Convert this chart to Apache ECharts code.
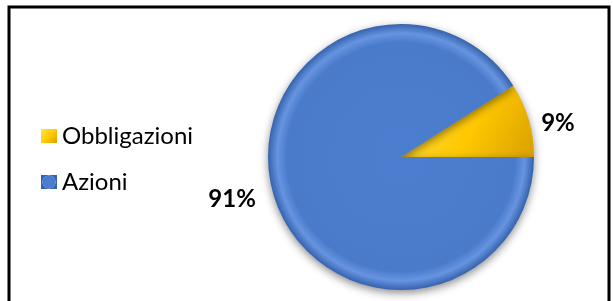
<!DOCTYPE html>
<html>
<head>
<meta charset="utf-8">
<script src="https://cdn.jsdelivr.net/npm/echarts@6/dist/echarts.min.js"></script>
<style>
  html, body { margin: 0; padding: 0; background: #fff; }
  #chart { width: 613px; height: 301px; }
</style>
</head>
<body>
<div id="chart"></div>
<script>
var categories = ['Obbligazioni', 'Azioni'];
var values = [9, 91];
var colors = ['#f5b800', '#4a7bcb'];

var myChart = echarts.init(document.getElementById('chart'));

var fills = [
    new echarts.graphic.LinearGradient(0, 0, 1, 1, [
        { offset: 0, color: '#ffe44a' },
        { offset: 0.55, color: '#ffc800' },
        { offset: 1, color: '#d9a000' }
    ]),
    new echarts.graphic.RadialGradient(0.5, 0.5, 0.5, [
        { offset: 0, color: '#4c7ecf' },
        { offset: 0.86, color: '#4a7bcb' },
        { offset: 0.93, color: '#6694e0' },
        { offset: 1, color: '#3562ad' }
    ])
];

var option = {
    animation: false,
    color: colors,
    legend: {
        orient: 'vertical',
        left: 36,
        top: 119,
        itemWidth: 16,
        itemHeight: 14,
        itemGap: 22,
        icon: 'rect',
        textStyle: {
            fontFamily: 'Lato',
            fontSize: 24,
            lineHeight: 24,
            color: '#000'
        },
        data: categories
    },
    graphic: [{
        type: 'rect',
        shape: { x: 9, y: 7, width: 600, height: 310 },
        style: { fill: 'none', stroke: '#000', lineWidth: 3 },
        z: 10
    }],
    series: [{
        type: 'pie',
        center: [401, 157],
        radius: 133,
        startAngle: 32.4,
        clockwise: true,
        label: {
            position: 'outside',
            formatter: '{d}%',
            fontFamily: 'Lato',
            fontWeight: 'bold',
            fontSize: 24,
            color: '#000'
        },
        labelLine: { show: false, length: 14, length2: 0 },
        labelLayout: function (params) {
            return params.dataIndex === 0 ? { dx: -6, dy: 7 } : { dx: 1, dy: 1 };
        },
        itemStyle: {
            shadowBlur: 8,
            shadowOffsetY: 3,
            shadowColor: 'rgba(0,0,0,0.45)'
        },
        data: categories.map(function (name, i) {
            return { name: name, value: values[i], itemStyle: { color: fills[i] } };
        })
    }]
};
myChart.setOption(option);
window.onresize = myChart.resize;
</script>
</body>
</html>
